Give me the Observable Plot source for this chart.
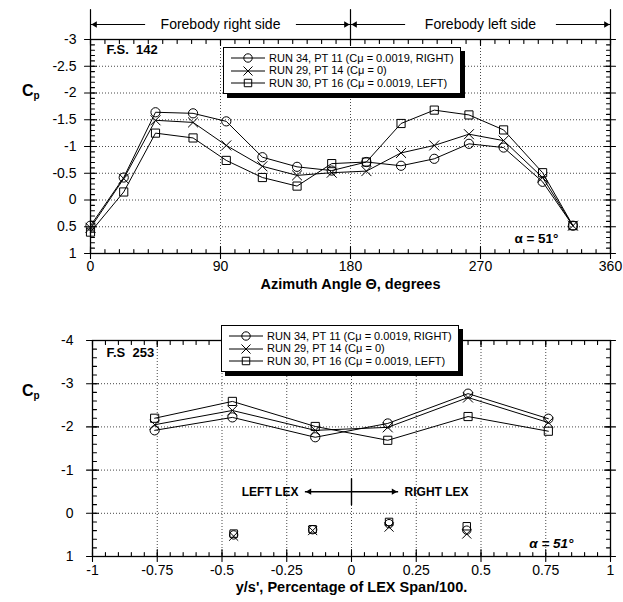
<!DOCTYPE html>
<html>
<head>
<meta charset="utf-8">
<script src="https://cdn.jsdelivr.net/npm/d3@7"></script>
<script src="https://cdn.jsdelivr.net/npm/@observablehq/plot@0.6"></script>
<style>
  body { margin: 0; background: #fff; }
  #page { position: relative; width: 623px; height: 602px; font-family: "Liberation Sans", Arial, sans-serif; color: #000; overflow: hidden; }
  .panel { position: absolute; left: 0; }
  .panel svg { display: block; }
  .legend { position: absolute; background: #fff; border: 1.4px solid #000; box-shadow: 4px 4px 0 #000; font-size: 11px; line-height: 12.4px; padding: 4px 6px 4px 6px; white-space: nowrap; }
  .legend .row { display: flex; align-items: center; }
  .legend svg { margin-right: 3px; }
  .cp { position: absolute; font-weight: bold; font-size: 16px; }
  .cp sub { font-size: 10px; vertical-align: -3px; }
  g[aria-label="forebody-label"] text { letter-spacing: 2.2px; }
  g[aria-label="lex-label"] text { letter-spacing: -0.4px; }
</style>
</head>
<body>
<div id="page"></div>
<script>
// Pressure coefficient distributions at alpha = 51 deg, three blowing conditions.
const seriesKeys = ["run34", "run29", "run30"];
const seriesLabels = [
  "RUN 34, PT 11 (C\u03bc = 0.0019, RIGHT)",
  "RUN 29, PT 14 (C\u03bc = 0)",
  "RUN 30, PT 16 (C\u03bc = 0.0019, LEFT)"
];
const seriesSymbols = ["circle", "times", "square"];

// Forebody station F.S. 142: Cp around the forebody azimuth (degrees)
const azimuth = [0, 23, 45, 71, 94, 119, 143, 167, 191, 215, 238, 262, 286, 313, 334];
const cpFS142Run34 = [0.48, -0.42, -1.64, -1.62, -1.47, -0.80, -0.62, -0.55, -0.71, -0.64, -0.77, -1.05, -0.98, -0.34, 0.48];
const cpFS142Run29 = [0.52, -0.40, -1.49, -1.45, -1.02, -0.63, -0.46, -0.51, -0.54, -0.88, -1.02, -1.23, -1.11, -0.42, 0.48];
const cpFS142Run30 = [0.60, -0.15, -1.25, -1.16, -0.74, -0.42, -0.26, -0.68, -0.71, -1.43, -1.68, -1.59, -1.31, -0.51, 0.48];

// LEX station F.S. 253: Cp across the LEX span, upper surface (connected)
const spanUpper = [-0.76, -0.46, -0.14, 0.14, 0.45, 0.76];
const cpFS253Run34 = [-1.92, -2.22, -1.76, -2.08, -2.77, -2.19];
const cpFS253Run29 = [-2.05, -2.38, -1.92, -1.99, -2.68, -2.10];
const cpFS253Run30 = [-2.20, -2.59, -2.01, -1.69, -2.24, -1.90];

// F.S. 253 lower-surface taps (symbols only)
const spanLower = [-0.455, -0.15, 0.145, 0.445];
const cpLowerRun34 = [0.50, 0.38, 0.24, 0.39];
const cpLowerRun29 = [0.53, 0.40, 0.32, 0.48];
const cpLowerRun30 = [0.47, 0.37, 0.20, 0.30];

// Axis ticks
const azTicks = [0, 90, 180, 270, 360];
const azMinor = d3.range(0, 361, 10);
const cp142Ticks = [-3, -2.5, -2, -1.5, -1, -0.5, 0, 0.5, 1];
const cp142Minor = d3.range(-30, 11, 1).map(d => d / 10);
const spanTicks = [-1, -0.75, -0.5, -0.25, 0, 0.25, 0.5, 0.75, 1];
const spanMinor = d3.range(-20, 21, 1).map(d => d / 20);
const cp253Ticks = [-4, -3, -2, -1, 0, 1];
const cp253Minor = d3.range(-20, 6, 1).map(d => d / 5);

// Annotations
const forebodySides = [
  {label: "Forebody right side", from: 0, to: 180},
  {label: "Forebody left side", from: 180, to: 360}
];
const lexSides = [{label: "LEFT LEX", dir: -1}, {label: "RIGHT LEX", dir: 1}];
const lexCp = -0.5;
const lexReach = 0.18;
const alphaText = "\u03b1 = 51\u00b0";

const fmt = d => String(d);
const dotted = {stroke: "#333", strokeOpacity: 1, strokeWidth: 0.9, strokeDasharray: "1,2"};
const fontFamily = "Liberation Sans, Arial, sans-serif";
const first = a => a[0];
const last = a => a[a.length - 1];

function longTable(xs, columns) {
  return seriesKeys.flatMap((key, s) => xs.map((x, i) => ({series: key, x, cp: columns[s][i]})));
}

// A short straight stroke anchored at a data point, length in pixels
function stroke(data, options) {
  return Plot.vector(data, {anchor: "start", shape: "spike", r: 0, stroke: "#000", strokeWidth: 1.1, ...options});
}

// Frame ticks: inward minor ticks on all four sides, major ticks crossing the frame
function frameTicks(xMajor, xMinor, yMajor, yMinor) {
  const xl = first(xMajor), xr = last(xMajor);   // left / right edges
  const yb = last(yMajor), yt = first(yMajor);   // bottom / top edges
  const X = d => d;
  return [
    stroke(xMinor, {x: X, y: yb, rotate: 0, length: 4}),
    stroke(xMinor, {x: X, y: yt, rotate: 180, length: 4}),
    stroke(yMinor, {x: xl, y: X, rotate: 90, length: 4}),
    stroke(yMinor, {x: xr, y: X, rotate: -90, length: 4}),
    stroke(xMajor, {x: X, y: yb, rotate: 0, length: 7}),
    stroke(xMajor, {x: X, y: yb, rotate: 180, length: 5}),
    stroke(xMajor, {x: X, y: yt, rotate: 180, length: 6}),
    stroke(yMajor, {x: xl, y: X, rotate: 90, length: 6}),
    stroke(yMajor, {x: xl, y: X, rotate: -90, length: 6}),
    stroke(yMajor, {x: xr, y: X, rotate: -90, length: 6}),
    stroke(yMajor, {x: xr, y: X, rotate: 90, length: 5})
  ];
}

const interior = ticks => ticks.slice(1, -1);

// ---------- F.S. 142 ----------
const rows142 = longTable(azimuth, [cpFS142Run34, cpFS142Run29, cpFS142Run30]);
const cp142Top = first(cp142Ticks);
const armLen = s => 0.21 * (s.to - s.from);
const bounds = Array.from(new Set(forebodySides.flatMap(s => [s.from, s.to])));
const arms = forebodySides.flatMap(s => [
  {x1: s.from, x2: s.from + armLen(s)},
  {x1: s.to - armLen(s), x2: s.to}
]);

const plot142 = Plot.plot({
  width: 623, height: 300,
  marginLeft: 90, marginRight: 13, marginTop: 39, marginBottom: 47,
  x: {domain: [first(azTicks), last(azTicks)]},
  y: {domain: [last(cp142Ticks), first(cp142Ticks)]},
  symbol: {domain: seriesKeys, range: seriesSymbols},
  style: {fontFamily, fontSize: "14px", color: "#000", background: "#fff", overflow: "visible"},
  marks: [
    Plot.gridX(interior(azTicks), dotted),
    Plot.gridY(interior(cp142Ticks), dotted),
    Plot.frame({stroke: "#000", strokeWidth: 1.3}),
    ...frameTicks(azTicks, azMinor, cp142Ticks, cp142Minor),
    Plot.axisX(azTicks, {anchor: "bottom", tickSize: 0, tickPadding: 8, tickFormat: fmt, label: null, fontSize: 14}),
    Plot.axisY(cp142Ticks, {anchor: "left", tickSize: 0, tickPadding: 14, tickFormat: fmt, label: null, fontSize: 14}),
    Plot.text(["Azimuth Angle \u0398, degrees"], {frameAnchor: "bottom", dy: 35, fontWeight: "bold", fontSize: 14.5}),
    // side brackets above the frame
    stroke(bounds, {x: d => d, y: cp142Top, length: 30, rotate: 0, strokeWidth: 1.2}),
    Plot.link(arms, {x1: "x1", x2: "x2", y1: cp142Top, y2: cp142Top, dy: -15, stroke: "#000", strokeWidth: 1.1}),
    Plot.dot(forebodySides, {x: "from", y: cp142Top, dy: -15, dx: 4.5, symbol: "triangle2", r: 3, rotate: -90, fill: "#000"}),
    Plot.dot(forebodySides, {x: "to", y: cp142Top, dy: -15, dx: -4.5, symbol: "triangle2", r: 3, rotate: 90, fill: "#000"}),
    Plot.text(forebodySides, {x: s => (s.from + s.to) / 2, y: cp142Top, dy: -15, text: "label", fontSize: 14, ariaLabel: "forebody-label"}),
    // station and incidence labels
    Plot.text(["F.S.  142"], {frameAnchor: "top-left", dx: 16, dy: 10, textAnchor: "start", lineAnchor: "middle", fontWeight: "bold", fontSize: 13}),
    Plot.text([alphaText], {frameAnchor: "bottom-right", dx: -52, dy: -15, textAnchor: "end", lineAnchor: "middle", fontWeight: "bold", fontSize: 13.5}),
    // data
    Plot.line(rows142, {x: "x", y: "cp", z: "series", stroke: "#000", strokeWidth: 1}),
    Plot.dot(rows142, {x: "x", y: "cp", symbol: "series", stroke: "#000", fill: "none", r: 4.6, strokeWidth: 1})
  ]
});

// ---------- F.S. 253 ----------
const rows253 = longTable(spanUpper, [cpFS253Run34, cpFS253Run29, cpFS253Run30]);
const rowsLower = longTable(spanLower, [cpLowerRun34, cpLowerRun29, cpLowerRun30]);

const plot253 = Plot.plot({
  width: 623, height: 302,
  marginLeft: 92, marginRight: 13, marginTop: 40, marginBottom: 46,
  x: {domain: [first(spanTicks), last(spanTicks)]},
  y: {domain: [last(cp253Ticks), first(cp253Ticks)]},
  symbol: {domain: seriesKeys, range: seriesSymbols},
  style: {fontFamily, fontSize: "14px", color: "#000", background: "#fff", overflow: "visible"},
  marks: [
    Plot.gridX(interior(spanTicks), dotted),
    Plot.gridY(interior(cp253Ticks), dotted),
    Plot.frame({stroke: "#000", strokeWidth: 1.3}),
    ...frameTicks(spanTicks, spanMinor, cp253Ticks, cp253Minor),
    Plot.axisX(spanTicks, {anchor: "bottom", tickSize: 0, tickPadding: 9, tickFormat: fmt, label: null, fontSize: 14}),
    Plot.axisY(cp253Ticks, {anchor: "left", tickSize: 0, tickPadding: 19, tickFormat: fmt, label: null, fontSize: 14}),
    Plot.text(["y/s', Percentage of LEX Span/100."], {frameAnchor: "bottom", dy: 35, fontWeight: "bold", fontSize: 14.5}),
    // LEX side indicator
    stroke([0], {x: d => d, y: lexCp, length: 26, anchor: "middle", rotate: 0, strokeWidth: 1.4}),
    Plot.link(lexSides, {x1: 0, x2: s => s.dir * lexReach, y1: lexCp, y2: lexCp, stroke: "#000", strokeWidth: 1.6}),
    ...lexSides.map(s => Plot.dot([s], {x: d => d.dir * lexReach, y: lexCp, dx: -s.dir * 4.5, symbol: "triangle2", r: 3, rotate: s.dir * 90, fill: "#000"})),
    ...lexSides.map(s => Plot.text([s], {x: d => d.dir * (lexReach + 0.025), y: lexCp, text: "label", textAnchor: s.dir < 0 ? "end" : "start", fontWeight: "bold", fontSize: 12, ariaLabel: "lex-label"})),
    // station and incidence labels
    Plot.text(["F.S  253"], {frameAnchor: "top-left", dx: 14, dy: 12, textAnchor: "start", lineAnchor: "middle", fontWeight: "bold", fontSize: 13}),
    Plot.text([alphaText], {frameAnchor: "bottom-right", dx: -37, dy: -13, textAnchor: "end", lineAnchor: "middle", fontWeight: "bold", fontStyle: "italic", fontSize: 13.5}),
    // data
    Plot.line(rows253, {x: "x", y: "cp", z: "series", stroke: "#000", strokeWidth: 1}),
    Plot.dot(rows253, {x: "x", y: "cp", symbol: "series", stroke: "#000", fill: "none", r: 4.6, strokeWidth: 1}),
    Plot.dot(rowsLower, {x: "x", y: "cp", symbol: "series", stroke: "#000", fill: "none", r: 4.2, strokeWidth: 1})
  ]
});

// ---------- page assembly ----------
const page = document.getElementById("page");

function addPanel(svg, top) {
  const div = document.createElement("div");
  div.className = "panel";
  div.style.top = top + "px";
  div.appendChild(svg);
  page.appendChild(div);
}

function addLegend(left, top) {
  const box = document.createElement("div");
  box.className = "legend";
  box.style.left = left + "px";
  box.style.top = top + "px";
  seriesKeys.forEach((key, i) => {
    const row = document.createElement("div");
    row.className = "row";
    const sw = d3.create("svg").attr("width", 36).attr("height", 12);
    sw.append("line").attr("x1", 1).attr("x2", 35).attr("y1", 6).attr("y2", 6).attr("stroke", "#000");
    const sym = {circle: d3.symbolCircle, times: d3.symbolTimes, square: d3.symbolSquare}[seriesSymbols[i]];
    sw.append("path").attr("d", d3.symbol(sym, Math.PI * 4.2 * 4.2)()).attr("transform", "translate(18,6)")
      .attr("fill", "none").attr("stroke", "#000");
    row.appendChild(sw.node());
    const label = document.createElement("span");
    label.textContent = seriesLabels[i];
    row.appendChild(label);
    box.appendChild(row);
  });
  page.appendChild(box);
}

function addCp(left, top) {
  const el = document.createElement("div");
  el.className = "cp";
  el.style.left = left + "px";
  el.style.top = top + "px";
  el.innerHTML = "C<sub>p</sub>";
  page.appendChild(el);
}

addPanel(plot142, 0);
addPanel(plot253, 300);
addLegend(223, 47);
addLegend(221, 325);
addCp(22, 82);
addCp(22, 382);
</script>
</body>
</html>
